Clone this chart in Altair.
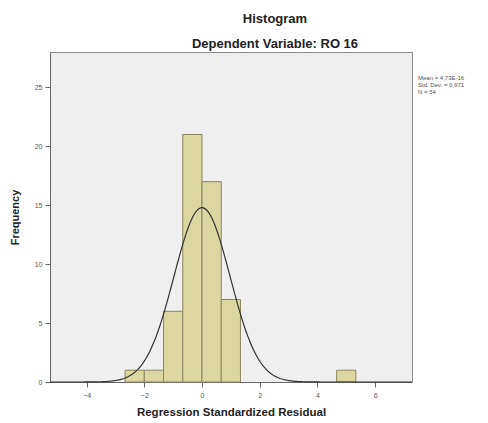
import altair as alt
import pandas as pd

# Histogram bins (standardized residual) and frequencies
bin_start = [-2.667, -2.0, -1.333, -0.667, 0.0, 0.667, 4.667]
bin_end = [-2.0, -1.333, -0.667, 0.0, 0.667, 1.333, 5.333]
counts = [1, 1, 6, 21, 17, 7, 1]

# Summary statistics shown in the legend
mean_val = 0.0
std_dev = 0.971
n_obs = 54
bin_width = 2.0 / 3.0
legend_lines = ["Mean = 4,73E-16", "Std. Dev. = 0,971", "N = 54"]

x_ticks = [-4, -2, 0, 2, 4, 6]
y_ticks = [0, 5, 10, 15, 20, 25]

bars_df = pd.DataFrame({"start": bin_start, "end": bin_end, "count": counts})
legend_df = pd.DataFrame({"line": [legend_lines]})

xscale = alt.Scale(domain=[-5.27, 7.28], nice=False, zero=False)
yscale = alt.Scale(domain=[0, 28], nice=False)

xaxis = alt.Axis(values=x_ticks, title="Regression Standardized Residual", grid=False,
                 labelFontSize=7, labelColor="#555", tickColor="#666", tickSize=5,
                 domainColor="#666", titleFontSize=11.5, titleFontWeight="bold",
                 titleColor="#222", titlePadding=8, titleFont="Liberation Sans",
                 labelFont="Liberation Sans", labelPadding=4)
yaxis = alt.Axis(values=y_ticks, title="Frequency", grid=False,
                 labelFontSize=7, labelColor="#555", tickColor="#666", tickSize=5,
                 domainColor="#666", titleFontSize=11, titleFontWeight="bold",
                 titleColor="#222", titlePadding=14, titleFont="Liberation Sans",
                 labelFont="Liberation Sans", labelPadding=3)

bars = alt.Chart(bars_df).mark_rect(fill="#dcd7a0", stroke="#8a8560", strokeWidth=1).encode(
    x=alt.X("start:Q", scale=xscale, axis=xaxis),
    x2="end:Q",
    y=alt.Y("count:Q", scale=yscale, axis=yaxis),
    y2=alt.datum(0),
)

curve = alt.Chart(alt.sequence(-5.27, 7.28, 0.03, as_="x")).transform_calculate(
    y=f"{n_obs * bin_width} / ({std_dev} * sqrt(2*PI)) * exp(-0.5 * pow((datum.x - {mean_val}) / {std_dev}, 2))"
).mark_line(color="#333333", strokeWidth=1.2).encode(
    x=alt.X("x:Q", scale=xscale),
    y=alt.Y("y:Q", scale=yscale),
)

legend = alt.Chart(legend_df).mark_text(
    align="left", baseline="top", fontSize=6, color="#555", font="Liberation Sans",
    lineHeight=7,
).encode(
    x=alt.value(368),
    y=alt.value(23),
    text="line:N",
)

chart = alt.layer(bars, curve, legend).properties(
    width=362,
    height=330,
    autosize=alt.AutoSizeParams(type="none"),
    padding={"left": 50, "top": 52, "right": 76, "bottom": 41},
    background="white",
    title=alt.TitleParams(
        text=["Histogram", "Dependent Variable: RO 16"],
        fontSize=13, fontWeight="bold", color="#222", font="Liberation Sans",
        lineHeight=25, anchor="middle", dx=44, offset=1,
    ),
).configure_view(fill="#efefef", stroke="#888888", strokeWidth=1)

chart.save("out.html", embed_options={"renderer": "svg", "actions": False})
